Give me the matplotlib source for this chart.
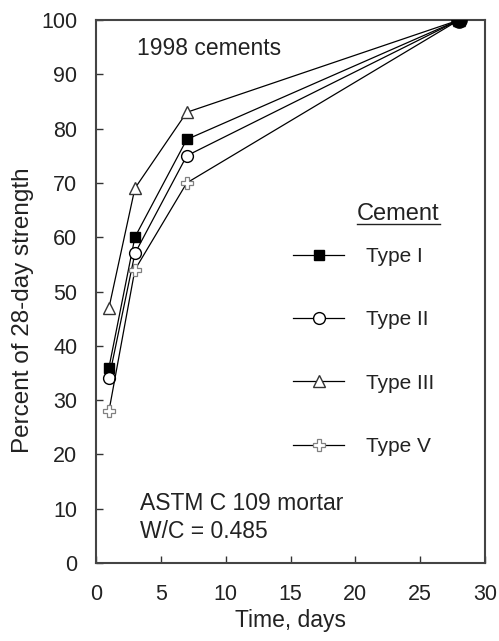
import matplotlib
matplotlib.use("Agg")
import matplotlib.pyplot as plt
from matplotlib.lines import Line2D

plt.rcParams['font.family'] = ['Liberation Sans', 'DejaVu Sans']

# Percent of 28-day strength, 1998 cements
days = [1, 3, 7, 28]
type_1 = [36, 60, 78, 100]
type_2 = [34, 57, 75, 100]
type_3 = [47, 69, 83, 100]
type_5 = [28, 54, 70, 100]

x_ticks = [0, 5, 10, 15, 20, 25, 30]
y_ticks = [0, 10, 20, 30, 40, 50, 60, 70, 80, 90, 100]

W, H = 499, 641


def fx(px):
    return px / W


def fy(py):
    return 1 - py / H


fig = plt.figure(figsize=(W / 100, H / 100), dpi=100)
ax = fig.add_axes([fx(96), fy(563), 389 / W, 543 / H])

ax.plot(days, type_1, color='black', lw=0.9, marker='s', ms=7,
        mfc='black', mec='black', label='Type I')
ax.plot(days, type_2, color='black', lw=0.9, marker='o', ms=8.5,
        mfc='white', mec='black', label='Type II')
ax.plot(days, type_3, color='black', lw=0.9, marker='^', ms=9,
        mfc='white', mec='#333333', label='Type III')
ax.plot(days, type_5, color='black', lw=0.9, marker='P', ms=9,
        mfc='white', mec='#808080', mew=0.9, label='Type V')
# all series meet at 100 % on day 28, drawn as one solid dot
ax.plot(days[-1], type_1[-1], 'o', color='black', ms=11, zorder=5)

ax.set_xlim(0, 30)
ax.set_ylim(0, 100)
ax.set_xticks(x_ticks)
ax.set_yticks(y_ticks)
ax.tick_params(direction='in', length=5, width=1, labelsize=15.5,
               top=False, right=False, colors='#333333', labelcolor='#222222')
ax.tick_params(axis='y', pad=13.5)
ax.tick_params(axis='x', pad=15)
for s in ax.spines.values():
    s.set_linewidth(1.5)
    s.set_color('#444444')

ax.set_xlabel('Time, days', fontsize=16.5, labelpad=3, color='#222222')
ax.set_ylabel('Percent of 28-day strength', fontsize=17.5, color='#222222')
ax.yaxis.set_label_coords(-0.16, 0.466)

fig.text(fx(137), fy(55), '1998 cements', fontsize=16.5,
         va='baseline', color='#222222')
fig.text(fx(140), fy(538), 'ASTM C 109 mortar\nW/C = 0.485',
         fontsize=16.5, va='baseline', linespacing=1.3, color='#222222')

title = fig.text(fx(357), fy(220), 'Cement', fontsize=17, va='baseline',
                 color='#222222')

leg = fig.legend(*ax.get_legend_handles_labels(), loc='upper left',
                 bbox_to_anchor=(fx(293), fy(247)),
                 bbox_transform=fig.transFigure, frameon=False,
                 fontsize=15, borderpad=0, borderaxespad=0,
                 handlelength=2.45, labelspacing=2.13, handletextpad=1.05)
for t in leg.get_texts():
    t.set_color('#222222')

fig.canvas.draw()
bb = title.get_window_extent().transformed(fig.transFigure.inverted())
fig.add_artist(Line2D([bb.x0, bb.x1], [fy(223.5), fy(223.5)],
                      transform=fig.transFigure, color='#222222', lw=1))

fig.savefig('out.png', dpi=100, facecolor='white')
